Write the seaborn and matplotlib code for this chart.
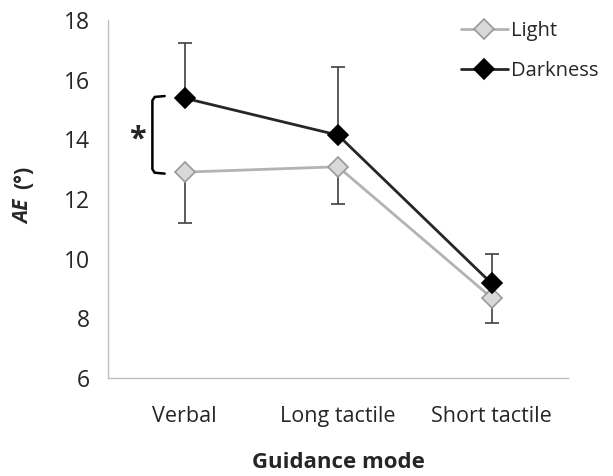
import matplotlib
matplotlib.use("Agg")
import matplotlib.pyplot as plt
import seaborn as sns
import pandas as pd
import numpy as np

categories = ["Verbal", "Long tactile", "Short tactile"]
light_vals = [12.9, 13.08, 8.69]
dark_vals = [15.38, 14.14, 9.17]
light_err_low = [1.69, 1.25, 0.86]
dark_err_up = [1.84, 2.30, 0.99]
yticks = [6, 8, 10, 12, 14, 16, 18]

sns.set_theme(style="white")
plt.rcParams['font.family'] = ['Open Sans', 'DejaVu Sans']

df = pd.DataFrame({
    "mode": categories * 2,
    "x": list(range(3)) * 2,
    "AE": light_vals + dark_vals,
    "cond": ["Light"] * 3 + ["Darkness"] * 3,
})

fig = plt.figure(figsize=(6.13, 4.76), dpi=100)
ax = fig.add_axes([0.176, 0.206, 0.751, 0.752])

xs = np.arange(3)
# error bars
ax.errorbar(xs, dark_vals, yerr=[np.zeros(3), dark_err_up], fmt='none',
            ecolor='#404040', elinewidth=1.2, capsize=4.7, capthick=1.2, zorder=1)
ax.errorbar(xs, light_vals, yerr=[light_err_low, np.zeros(3)], fmt='none',
            ecolor='#404040', elinewidth=1.2, capsize=4.7, capthick=1.2, zorder=1)

sns.lineplot(data=df[df.cond == "Light"], x="x", y="AE", ax=ax, color='#b3b3b3',
             linewidth=2, marker='D', markersize=10.5, markerfacecolor='#d9d9d9',
             markeredgecolor='#999999', markeredgewidth=1.2, label="Light", zorder=3)
sns.lineplot(data=df[df.cond == "Darkness"], x="x", y="AE", ax=ax, color='#262626',
             linewidth=2, marker='D', markersize=10.5, markerfacecolor='#000000',
             markeredgecolor='#000000', markeredgewidth=1.2, label="Darkness", zorder=4)

ax.set_xlim(-0.5, 2.5)
ax.set_ylim(6, 18)
ax.set_yticks(yticks)
ax.set_yticklabels([str(t) for t in yticks], fontsize=16.5)
ax.set_xticks([-0.5, 0.5, 1.5, 2.5])
ax.set_xticklabels([])
ax.set_xticks(xs, minor=True)
ax.set_xticklabels(categories, minor=True, fontsize=15.5)
ax.tick_params(axis='x', which='minor', length=0, pad=20)
ax.tick_params(axis='x', which='major', length=7, color='#bfbfbf', width=1, direction='out')
ax.tick_params(axis='y', length=6, color='#bfbfbf', width=1, direction='out', pad=7)

for s in ['top', 'right']:
    ax.spines[s].set_visible(False)
for s in ['left', 'bottom']:
    ax.spines[s].set_color('#bfbfbf')
    ax.spines[s].set_linewidth(1)

ax.set_xlabel("Guidance mode", fontsize=16, fontweight='bold', labelpad=18)
ax.set_ylabel("")
fig.text(0.038, 0.556, "AE", rotation=90, fontsize=15, fontweight='bold', fontstyle='italic',
         ha='center', va='center')
fig.text(0.038, 0.627, "(°)", rotation=90, fontsize=15, fontweight='bold',
         ha='center', va='center')

# significance bracket
bx = -0.21
ax.plot([bx + 0.08, bx + 0.015, bx, bx, bx + 0.015, bx + 0.08],
        [15.45, 15.42, 15.3, 13.0, 12.88, 12.85],
        color='black', linewidth=1.8, solid_capstyle='round', solid_joinstyle='round')
ax.text(-0.31, 14.0, "*", fontsize=22, fontweight='bold', ha='center', va='center')

leg = ax.legend(loc='upper left', bbox_to_anchor=(0.75, 1.02), frameon=False, fontsize=14.5,
                handlelength=2.3, handletextpad=0.15, labelspacing=1.0, borderaxespad=0)

fig.savefig("out.png", dpi=100)
